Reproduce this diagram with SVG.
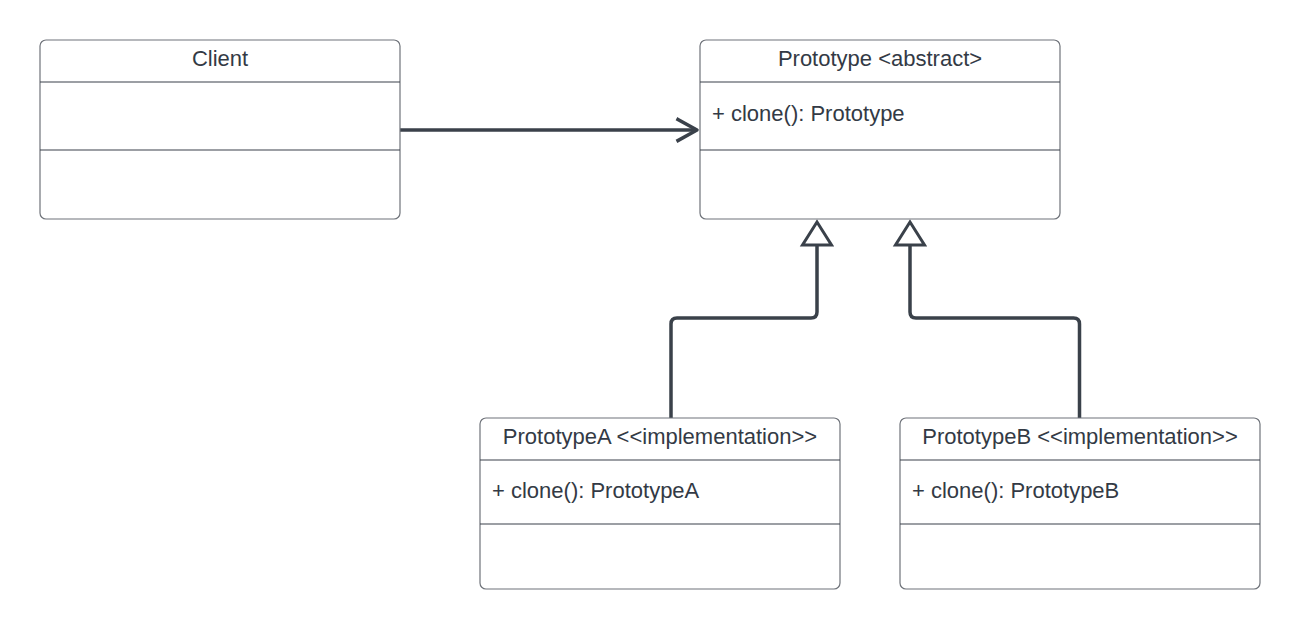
<svg xmlns="http://www.w3.org/2000/svg" width="1300" height="629" viewBox="0 0 1300 629">
<style>
.box{fill:#ffffff;stroke:#6f737a;stroke-width:1.2}
.div{stroke:#3a414a;stroke-width:1.2}
.t{font-family:"Liberation Sans",Arial,sans-serif;font-size:22px;fill:#333a45}
.c{text-anchor:middle}
.con{fill:none;stroke:#3a414a;stroke-width:3.5;stroke-linejoin:round}
.head{fill:#ffffff;stroke:#3a414a;stroke-width:3;stroke-linejoin:miter}
</style>
<rect width="1300" height="629" fill="#ffffff"/>
<g id="connectors">
<path class="con" d="M400 130 H696"/>
<path class="con" d="M678 119.5 L697 130 L678 140.5" stroke-linecap="square" stroke-linejoin="miter"/>
<path class="con" d="M671 418 V324 Q671 318 677 318 H811 Q817 318 817 312 V245"/>
<path class="head" d="M817 222 L831.5 245 H802.5 Z"/>
<path class="con" d="M1079.5 418 V324 Q1079.5 318 1073.5 318 H916 Q910 318 910 312 V245"/>
<path class="head" d="M910 222 L924.5 245 H895.5 Z"/>
</g>
<g id="client">
<rect class="box" x="40" y="40" width="360" height="179" rx="6"/>
<line class="div" x1="40" y1="82" x2="400" y2="82"/>
<line class="div" x1="40" y1="150" x2="400" y2="150"/>
<text class="t c" x="220" y="66">Client</text>
</g>
<g id="prototype">
<rect class="box" x="700" y="40" width="360" height="179" rx="6"/>
<line class="div" x1="700" y1="82" x2="1060" y2="82"/>
<line class="div" x1="700" y1="150" x2="1060" y2="150"/>
<text class="t c" x="880" y="66">Prototype &lt;abstract&gt;</text>
<text class="t" x="712" y="121">+ clone(): Prototype</text>
</g>
<g id="prototypeA">
<rect class="box" x="480" y="418" width="360" height="171" rx="6"/>
<line class="div" x1="480" y1="460" x2="840" y2="460"/>
<line class="div" x1="480" y1="524" x2="840" y2="524"/>
<text class="t c" x="660" y="444">PrototypeA &lt;&lt;implementation&gt;&gt;</text>
<text class="t" x="492" y="498">+ clone(): PrototypeA</text>
</g>
<g id="prototypeB">
<rect class="box" x="900" y="418" width="360" height="171" rx="6"/>
<line class="div" x1="900" y1="460" x2="1260" y2="460"/>
<line class="div" x1="900" y1="524" x2="1260" y2="524"/>
<text class="t c" x="1080" y="444">PrototypeB &lt;&lt;implementation&gt;&gt;</text>
<text class="t" x="912" y="498">+ clone(): PrototypeB</text>
</g>
</svg>
